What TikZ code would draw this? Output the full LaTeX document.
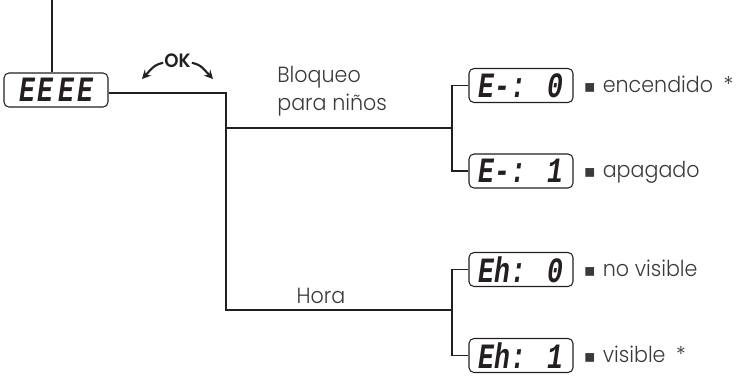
\documentclass[tikz,border=0pt]{standalone}
\usepackage{fontspec}
\setmainfont{Poppins}[UprightFont={* Light}, BoldFont={* SemiBold}, FakeStretch=0.94]
\newfontfamily\lcdfont{Liberation Mono}
\newfontfamily\symfont{DejaVu Sans}
\usetikzlibrary{positioning}

\definecolor{ink}{HTML}{231F20}
\definecolor{txt}{HTML}{3A3A3A}

% display digits, a little stretched upwards
\newcommand{\lcd}[1]{{\lcdfont\bfseries\itshape\fontsize{15}{15}\selectfont\scalebox{1}[1.35]{#1}}}
\newcommand{\sq}{{\symfont\fontsize{10}{10}\selectfont ▪}\hspace{4pt}}

\tikzset{
  disp/.style={draw=ink, line width=0.6pt, rounded corners=2.8pt,
    minimum width=2.08cm, minimum height=0.68cm, inner sep=0pt, text=ink},
  wire/.style={draw=ink, line width=1.1pt},
  okarrow/.style={->, >=stealth, draw=ink, line width=1.2pt},
  lbl/.style={font=\fontsize{12.5}{15}\selectfont, text=txt, inner sep=0pt,
    text height=10pt, text depth=2.5pt},
}

\begin{document}
\begin{tikzpicture}[x=0.02cm, y=-0.02cm]
  \useasboundingbox (0,0) rectangle (744,376);
  % Displays
  \node[disp] (main) at (56,90) {\lcd{E\kern1.5pt E\kern3pt E\kern1.5pt E}};
  \node[disp] (e0) at (521,85.5) {\lcd{E-: 0}};
  \node[disp] (e1) at (521,171) {\lcd{E-: 1}};
  \node[disp] (h0) at (521,269.5) {\lcd{Eh: 0}};
  \node[disp] (h1) at (521,355.5) {\lcd{Eh: 1}};
  % Option texts
  \node[lbl, right=0.2cm of e0] (te0) {\sq encendido\hspace{6pt}*};
  \node[lbl, right=0.2cm of e1] (te1) {\sq apagado};
  \node[lbl, right=0.2cm of h0] (th0) {\sq no visible};
  \node[lbl, right=0.2cm of h1] (th1) {\sq visible\hspace{6pt}*};
  % Menu texts
  \node[lbl, anchor=base west] (blq) at (277,82) {Bloqueo};
  \node[lbl, anchor=base west] (nin) at (277,110) {para niños};
  \node[lbl, anchor=base] (hora) at (321,303) {Hora};
  % OK key
  \node[font=\bfseries\fontsize{11}{11}\selectfont, text=ink, inner sep=0.5pt] (ok) at (177.5,60.5) {OK};
  \coordinate (okl) at (142,79);
  \coordinate (okr) at (213,79);
  \draw[okarrow] ([yshift=-1.3pt]ok.west) .. controls (155,65) .. (okl);
  \draw[okarrow] ([yshift=-1.3pt]ok.east) .. controls (200,65) .. (okr);
  % Tree lines
  \coordinate (top) at (52,0);
  \coordinate (split) at (226,93);
  \coordinate (jb) at (226,128);
  \coordinate (jh) at (226,310);
  \coordinate (fb) at (452,128);
  \coordinate (fh) at (452,310);
  \draw[wire] (top) -- (top |- main.north);
  \draw[wire] (split -| main.east) -- (split) -- (jh) -- (fh);
  \draw[wire] (jb) -- (fb);
  \draw[wire] (e0.west) -| (fb) |- (e1.west);
  \draw[wire] (h0.west) -| (fh) |- (h1.west);
\end{tikzpicture}
\end{document}
